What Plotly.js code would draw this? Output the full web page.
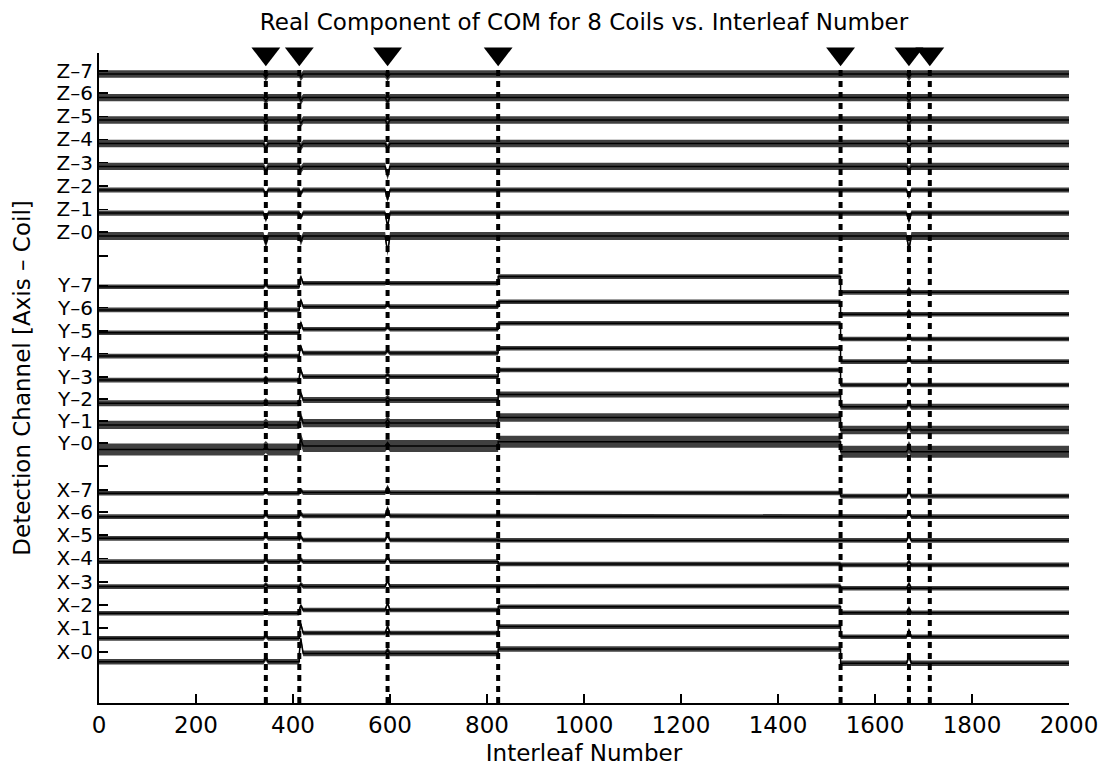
<!DOCTYPE html>
<html>
<head>
<meta charset="utf-8">
<script src="https://cdn.plot.ly/plotly-3.0.1.min.js"></script>
<style>html,body{margin:0;padding:0;background:#fff;}#chart{width:1101px;height:768px;}</style>
</head>
<body>
<div id="chart"></div>
<script>
// ---------------- data ----------------
// Interleaf numbers where events happen (triangles + dotted lines)
const events = [344, 413, 595, 823, 1529, 1670, 1713];
// Interleaf numbers where the baseline of the X and Y channels steps
const segEdges = [0, 413, 823, 1529, 2000];

// Y-axis tick positions (offset units) and labels, bottom to top
const tickPos = [0.00, 1.04, 2.03, 3.03, 4.05, 5.06, 6.06, 7.01, 8.05,
                 9.05, 10.00, 10.95, 11.90, 12.92, 13.90, 14.91, 15.87, 17.14,
                 18.18, 19.16, 20.17, 21.18, 22.19, 23.19, 24.20, 25.16];
const tickText = ['X–0','X–1','X–2','X–3','X–4','X–5','X–6','X–7','',
                  'Y–0','Y–1','Y–2','Y–3','Y–4','Y–5','Y–6','Y–7','',
                  'Z–0','Z–1','Z–2','Z–3','Z–4','Z–5','Z–6','Z–7'];

// Channel baseline level (offset units) in each segment between segEdges
const xLevels = [
  [-0.42, -0.06, 0.13, -0.49],
  [0.59, 0.82, 1.10, 0.66],
  [1.68, 1.82, 1.96, 1.70],
  [2.83, 2.84, 2.86, 2.76],
  [3.91, 3.91, 3.81, 3.77],
  [4.92, 4.85, 4.83, 4.83],
  [5.86, 5.89, 5.89, 5.86],
  [6.87, 6.90, 6.88, 6.75]
];
const yLevels = [
  [8.77, 8.92, 9.10, 8.67],
  [9.83, 9.91, 10.15, 9.61],
  [10.77, 10.91, 11.15, 10.62],
  [11.77, 11.92, 12.21, 11.56],
  [12.81, 12.94, 13.15, 12.57],
  [13.82, 13.97, 14.23, 13.55],
  [14.81, 14.95, 15.16, 14.62],
  [15.81, 15.96, 16.25, 15.57]
];
const zLevels = [
  [18.01, 18.01, 18.01, 18.01],
  [19.00, 19.00, 19.00, 19.00],
  [20.00, 20.00, 20.00, 20.00],
  [21.02, 21.02, 21.02, 21.02],
  [22.01, 22.01, 22.01, 22.01],
  [23.03, 23.03, 23.03, 23.03],
  [24.00, 24.00, 24.00, 24.00],
  [25.02, 25.02, 25.02, 25.02]
];

// Typical noise half-amplitude of each channel (offset units), coil 0..7
const xSpread = [0.12, 0.10, 0.10, 0.10, 0.10, 0.10, 0.10, 0.10];
const ySpread = [0.26, 0.18, 0.13, 0.10, 0.10, 0.10, 0.10, 0.10];
const zSpread = [0.17, 0.11, 0.11, 0.16, 0.16, 0.16, 0.16, 0.16];

// Short transients: where they occur and their size per coil 0..7
const spikeAt = [344, 416, 595, 1670];
const xSpikes = [
  [0.15, 0.10, 0.10, 0.10, 0.10, 0.10, 0.10, 0.10],
  [0.65, 0.40, 0.20, 0.10, 0.10, 0.15, 0.10, 0.10],
  [0.15, 0.30, 0.30, 0.25, 0.25, 0.20, 0.35, 0.25],
  [0.30, 0.30, 0.20, 0.20, 0.15, 0.20, 0.20, 0.20]
];
const ySpikes = [
  [0.10, 0.10, 0.10, 0.10, 0.10, 0.10, 0.10, 0.10],
  [0.30, 0.30, 0.30, 0.30, 0.30, 0.30, 0.30, 0.30],
  [0.15, 0.15, 0.10, 0.10, 0.10, 0.10, 0.10, 0.10],
  [0.20, 0.20, 0.15, 0.15, 0.15, 0.15, 0.15, 0.15]
];
const zSpikes = [
  [-0.35, -0.30, -0.20, -0.20, -0.20, -0.15, -0.15, -0.15],
  [-0.25, -0.20, -0.15, -0.15, -0.15, -0.15, -0.15, -0.15],
  [-0.70, -0.60, -0.43, -0.43, -0.20, -0.20, -0.20, -0.15],
  [-0.57, -0.36, -0.30, -0.15, -0.15, -0.15, -0.15, -0.15]
];

// ---------------- layout constants ----------------
const FONT = 'DejaVu Sans, Liberation Sans, Arial, sans-serif';
const FS = 23;
const YTICK_FS = 20;
const yRange = [-2.208, 25.93];
const markerLevel = 25.9;   // triangles sit at the top edge of the plot
const eventLineTop = 25.41; // dotted lines end at the triangle tips
const spikeHalfWidth = 5;

function levelAt(lv, x) {
  for (let i = 0; i < lv.length; i++) if (x < segEdges[i + 1]) return lv[i];
  return lv[lv.length - 1];
}
function channelKnots(lv, spikes, coil) {
  const pts = [];
  for (let i = 0; i < lv.length; i++) {
    pts.push({x: segEdges[i], y: lv[i], o: pts.length});
    pts.push({x: segEdges[i + 1], y: lv[i], o: pts.length});
  }
  spikeAt.forEach((s, k) => {
    const dy = spikes[k][coil];
    if (!dy) return;
    pts.push({x: s - spikeHalfWidth, y: levelAt(lv, s - spikeHalfWidth), o: pts.length});
    pts.push({x: s, y: levelAt(lv, s) + dy, o: pts.length});
    pts.push({x: s + spikeHalfWidth, y: levelAt(lv, s + spikeHalfWidth), o: pts.length});
  });
  pts.sort((a, b) => (a.x - b.x) || (a.o - b.o));
  return pts;
}

const traces = [];
[[xLevels, xSpread, xSpikes], [yLevels, ySpread, ySpikes], [zLevels, zSpread, zSpikes]]
  .forEach(([levels, spread, spikes]) => {
    levels.forEach((lv, coil) => {
      const pts = channelKnots(lv, spikes, coil);
      const xs = pts.map(p => p.x);
      const up = pts.map(p => p.y + spread[coil]);
      const lo = pts.map(p => p.y - spread[coil]);
      traces.push({
        x: xs.concat(xs.slice().reverse()),
        y: up.concat(lo.slice().reverse()),
        mode: 'lines', fill: 'toself', fillcolor: 'rgba(0,0,0,0.75)',
        line: {width: 0, color: 'rgba(0,0,0,0)'}, hoverinfo: 'skip', showlegend: false
      });
      traces.push({
        x: xs, y: pts.map(p => p.y), mode: 'lines',
        line: {width: 1.5, color: '#000'}, hoverinfo: 'skip', showlegend: false
      });
    });
  });

events.forEach(e => {
  traces.push({
    x: [e, e], y: [yRange[0], eventLineTop], mode: 'lines',
    line: {color: '#000', width: 4, dash: '6px,5px'}, hoverinfo: 'skip', showlegend: false
  });
});
traces.push({
  x: events, y: events.map(() => markerLevel), mode: 'markers', cliponaxis: false,
  marker: {symbol: 'triangle-down', size: 25, color: '#000'}, hoverinfo: 'skip', showlegend: false
});

const layout = {
  width: 1101, height: 768,
  margin: {l: 99, r: 32, t: 53, b: 65, pad: 0},
  paper_bgcolor: '#fff', plot_bgcolor: '#fff',
  font: {family: FONT, size: FS, color: '#000'},
  showlegend: false,
  title: {text: 'Real Component of COM for 8 Coils vs. Interleaf Number',
          font: {family: FONT, size: FS, color: '#000'},
          x: 0.5, xref: 'paper', y: 1 - 22 / 768, yref: 'container', yanchor: 'middle'},
  xaxis: {
    range: [0, 2000], tickvals: [0,200,400,600,800,1000,1200,1400,1600,1800,2000],
    ticks: 'inside', ticklen: 9, tickwidth: 1.5, tickcolor: '#000',
    showline: true, linewidth: 2, linecolor: '#000', mirror: false,
    showgrid: false, zeroline: false,
    tickfont: {family: FONT, size: FS, color: '#000'},
    title: {text: 'Interleaf Number', font: {family: FONT, size: FS, color: '#000'}, standoff: 8}
  },
  yaxis: {
    range: yRange, tickvals: tickPos, ticktext: tickText,
    ticks: 'inside', ticklen: 9, tickwidth: 1.5, tickcolor: '#000',
    showline: true, linewidth: 2, linecolor: '#000', mirror: false,
    showgrid: false, zeroline: false,
    tickfont: {family: FONT, size: YTICK_FS, color: '#000'},
    title: {text: 'Detection Channel [Axis – Coil]', font: {family: FONT, size: FS, color: '#000'}, standoff: 20}
  }
};

Plotly.newPlot('chart', traces, layout, {staticPlot: true, displayModeBar: false});
</script>
</body>
</html>
